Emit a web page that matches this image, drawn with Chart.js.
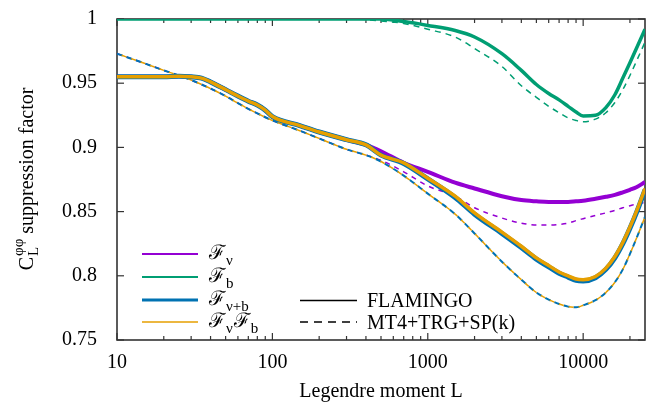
<!DOCTYPE html>
<html><head><meta charset="utf-8">
<script src="https://cdn.jsdelivr.net/npm/chart.js@4"></script>
<style>html,body{margin:0;padding:0;background:#fff}canvas{display:block}</style>
</head><body>
<canvas id="c" width="648" height="402"></canvas>
<script>
// Legendre moments L (x grid)
const ells = [10,15,20,25,30,35,40,50,60,70,80,90,100,150,200,300,400,500,700,1000,1500,2000,3000,4000,5000,6000,7000,8000,9000,10000,12000,14000,16000,18000,20000,22000,25000];

// FLAMINGO (solid) suppression factors
const fnuFlamingo  = [0.955,0.955,0.955,0.9555,0.955,0.954,0.951,0.945,0.940,0.936,0.933,0.929,0.924,0.917,0.912,0.906,0.902,
  0.897,0.888,0.881,0.8725,0.868,0.862,0.859,0.858,0.8575,0.8575,0.8575,0.858,0.8585,0.860,0.8615,0.863,0.865,0.867,0.869,0.873];
const fbFlamingo   = [1,1,1,1,1,1,1,1,1,1,1,1,1,1,1,1,1,
  1.0,0.998,0.995,0.991,0.986,0.973,0.960,0.949,0.942,0.937,0.932,0.9275,0.9245,0.925,0.931,0.941,0.954,0.966,0.977,0.992];
const fnubFlamingo = [0.955,0.955,0.955,0.9555,0.955,0.954,0.951,0.945,0.940,0.936,0.933,0.929,0.924,0.917,0.912,0.906,0.902,
  0.894,0.8875,0.8755,0.861,0.848,0.833,0.822,0.813,0.807,0.802,0.799,0.7965,0.796,0.7985,0.805,0.814,0.825,0.837,0.849,0.867];
const fprodFlamingo = [0.955,0.955,0.955,0.9555,0.955,0.954,0.951,0.945,0.940,0.936,0.933,0.929,0.924,0.917,0.912,0.906,0.902,
  0.894,0.888,0.876,0.862,0.849,0.834,0.823,0.814,0.808,0.803,0.800,0.7975,0.797,0.7995,0.806,0.815,0.826,0.838,0.850,0.868];

// MT4+TRG+SP(k) (dashed) suppression factors
const fnuModel  = [0.973,0.9655,0.960,0.956,0.9525,0.949,0.9458,0.940,0.9345,0.930,0.9265,0.9235,0.921,0.913,0.907,0.8985,
  0.894,0.890,0.881,0.870,0.862,0.853,0.845,0.841,0.8395,0.8395,0.840,0.841,0.843,0.8445,0.847,0.849,0.851,0.853,0.8545,0.856,0.857];
const fbModel   = [1,1,1,1,1,1,1,1,1,1,1,1,1,1,1,1,
  0.9995,0.9985,0.9965,0.992,0.986,0.977,0.963,0.948,0.939,0.932,0.927,0.923,0.921,0.920,0.922,0.927,0.935,0.945,0.956,0.967,0.982];
const fnubModel = [0.973,0.9655,0.960,0.956,0.9525,0.949,0.9458,0.940,0.9345,0.930,0.9265,0.9235,0.921,0.913,0.907,0.8985,
  0.894,0.889,0.878,0.864,0.848,0.833,0.811,0.797,0.787,0.7815,0.778,0.776,0.7755,0.777,0.781,0.787,0.795,0.805,0.817,0.829,0.846];
const fprodModel = fnubModel.slice();

// ticks
const xTickValues = [10,20,30,40,50,60,70,80,90,100,200,300,400,500,600,700,800,900,1000,2000,3000,4000,5000,6000,7000,8000,9000,10000,20000];
const xMajor = [10,100,1000,10000];
const yTickValues = [0.75,0.8,0.85,0.9,0.95,1];

const COL = {nu:'#9400d3', b:'#009e73', nub:'#0072b2', prod:'#e69f00'};
const FONT = "'Liberation Serif','DejaVu Serif',serif";

const pts = arr => ells.map((l,i)=>({x:l,y:arr[i]}));
function ds(arr,color,width,dash,offset){
  return {data:pts(arr),borderColor:color,borderWidth:width,borderDash:dash||[],borderDashOffset:offset||0,
    pointRadius:0,fill:false,cubicInterpolationMode:'monotone'};
}
const datasets = [
  ds(fprodFlamingo,COL.prod,3.5),
  ds(fnubFlamingo,COL.nub,5),
  ds(fnuFlamingo,COL.nu,4),
  ds(fbFlamingo,COL.b,3.5),
  ds(fprodModel,COL.prod,1.5,[5,5],5),
  ds(fnubModel,COL.nub,2,[6,4],0),
  ds(fnuModel,COL.nu,1.5,[5,5],0),
  ds(fbModel,COL.b,1.5,[6,5],0),
];

function seg(ctx,x1,y1,x2,y2){ctx.beginPath();ctx.moveTo(x1,y1);ctx.lineTo(x2,y2);ctx.stroke();}

const framePlugin = {
  id:'frame',
  beforeDatasetsDraw(chart){
    const {ctx, chartArea:a, scales:{x,y}} = chart;
    ctx.save();
    ctx.strokeStyle='#333'; ctx.lineWidth=1.6;
    ctx.strokeRect(a.left,a.top,a.right-a.left,a.bottom-a.top);
    ctx.lineWidth=1.2;
    xTickValues.forEach(v=>{
      const px=x.getPixelForValue(v); const len=xMajor.includes(v)?7:4;
      seg(ctx,px,a.bottom,px,a.bottom-len); seg(ctx,px,a.top,px,a.top+len);
    });
    yTickValues.forEach(v=>{
      const py=y.getPixelForValue(v);
      seg(ctx,a.left,py,a.left+7,py); seg(ctx,a.right,py,a.right-7,py);
    });
    ctx.restore();
  },
  afterDraw(chart){
    const {ctx, chartArea:a} = chart;
    ctx.save();
    ctx.fillStyle='#000';
    // x title
    ctx.font='20px '+FONT; ctx.textAlign='center'; ctx.textBaseline='alphabetic';
    ctx.fillText('Legendre moment L',(a.left+a.right)/2,397);
    // y title
    ctx.save();
    ctx.translate(33,(a.top+a.bottom)/2);
    ctx.rotate(-Math.PI/2);
    ctx.textAlign='left';
    const main='C', rest=' suppression factor';
    ctx.font='20px '+FONT;
    const wC=ctx.measureText(main).width, wR=ctx.measureText(rest).width;
    ctx.font='15px '+FONT;
    const wS=Math.max(ctx.measureText('φφ').width,ctx.measureText('L').width);
    let x0=-(wC+wS+wR)/2;
    ctx.font='20px '+FONT; ctx.fillText(main,x0,0);
    ctx.font='15px '+FONT; ctx.fillText('φφ',x0+wC+1,-10); ctx.fillText('L',x0+wC+1,5);
    ctx.font='20px '+FONT; ctx.fillText(rest,x0+wC+wS+1,0);
    ctx.restore();
    // legend 1
    const ent=[[COL.nu,254,[['ℱ',0],['ν',1]],2],[COL.b,277,[['ℱ',0],['b',1]],2],[COL.nub,300,[['ℱ',0],['ν+b',1]],3],[COL.prod,322,[['ℱ',0],['ν',1],['ℱ',0],['b',1]],1.6]];
    ctx.textAlign='left';
    ent.forEach(([c,yy,parts,w])=>{
      ctx.strokeStyle=c; ctx.lineWidth=w; seg(ctx,142,yy,198,yy);
      let xx=209;
      parts.forEach(([t,sub])=>{
        ctx.font=(sub?'15px ':'20px ')+FONT;
        ctx.fillText(t,xx,yy+(sub?11:5));
        xx+=ctx.measureText(t).width+(sub?1:1);
      });
    });
    // legend 2
    ctx.strokeStyle='#000'; ctx.lineWidth=1.5;
    seg(ctx,300,300.5,357,300.5);
    ctx.setLineDash([8,6]); seg(ctx,300,322,357,322); ctx.setLineDash([]);
    ctx.font='20px '+FONT; ctx.textAlign='left';
    ctx.fillText('FLAMINGO',367,307);
    ctx.fillText('MT4+TRG+SP(k)',367,329);
    ctx.restore();
  }
};

new Chart(document.getElementById('c'),{
  type:'line',
  data:{datasets},
  options:{
    responsive:false, animation:false, devicePixelRatio:1,
    layout:{padding:{left:0,top:19,right:3,bottom:0}},
    plugins:{legend:{display:false},tooltip:{enabled:false}},
    scales:{
      x:{type:'logarithmic',min:10,max:25000,
        grid:{display:false},border:{display:false},
        afterBuildTicks:s=>{s.ticks=xTickValues.map(v=>({value:v}));},
        afterFit:s=>{s.height=62;s.paddingLeft=0;s.paddingRight=0;},
        ticks:{autoSkip:false,maxRotation:0,padding:3,color:'#000',font:{family:FONT,size:20},
          callback:v=>xMajor.includes(v)?String(v):''}},
      y:{min:0.75,max:1,
        grid:{display:false},border:{display:false},
        afterBuildTicks:s=>{s.ticks=yTickValues.map(v=>({value:v}));},
        afterFit:s=>{s.width=117;s.paddingTop=0;s.paddingBottom=0;},
        ticks:{padding:12,color:'#000',font:{family:FONT,size:20},
          callback:v=>String(Number(v.toFixed(2)))}}
    }
  },
  plugins:[framePlugin]
});
</script>
</body></html>
